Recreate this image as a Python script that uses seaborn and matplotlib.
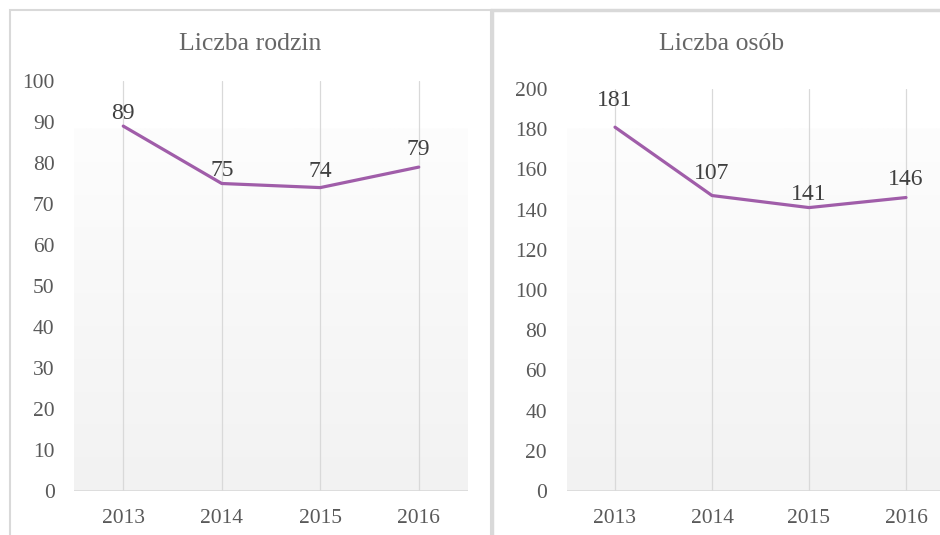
import numpy as np
import pandas as pd
import matplotlib
matplotlib.use("Agg")
import matplotlib.pyplot as plt
from matplotlib.patches import Rectangle
from matplotlib.colors import LinearSegmentedColormap
import seaborn as sns

# ---- data ----
years = ["2013", "2014", "2015", "2016"]
rodziny = [89, 75, 74, 79]
rodziny_labels = ["89", "75", "74", "79"]
osoby = [181, 147, 141, 146]
osoby_labels = ["181", "107", "141", "146"]
title_left = "Liczba rodzin"
title_right = "Liczba osób"

sns.set_theme(style="white")
plt.rcParams["font.family"] = ["Liberation Serif", "DejaVu Serif"]

LINE = "#A05DA9"
TICK = "#595959"
TITLE = "#666666"
LABEL = "#404040"
GRID = "#D9D9D9"

fig = plt.figure(figsize=(9.4, 5.35), dpi=100)
W, H = 940, 535

def px_axes(x0, x1, ytop, ybot):
    return fig.add_axes([x0 / W, (H - ybot) / H, (x1 - x0) / W, (ybot - ytop) / H])

# panel frames
fig.patches.append(Rectangle((10 / W, -0.05), (491 - 10) / W, (H - 10) / H + 0.05,
                             transform=fig.transFigure, fill=False, edgecolor=GRID, lw=1.5))
fig.patches.append(Rectangle((492 / W, -0.05), 0.6, (H - 10) / H + 0.05,
                             transform=fig.transFigure, fill=False, edgecolor=GRID, lw=2.5))

grad = np.linspace(0, 1, 256).reshape(-1, 1)
cmap = LinearSegmentedColormap.from_list("g", ["#F2F2F2", "#FDFDFD"])

def panel(ax, values, labels, ymax, step, title, tx, offsets, grad_top):
    df = pd.DataFrame({"x": np.arange(len(years)), "y": values})
    ax.imshow(grad, cmap=cmap, origin="lower", aspect="auto",
              extent=(0, 1, 0, grad_top), transform=ax.transAxes, zorder=0)
    for xi in df["x"]:
        ax.axvline(xi, color=GRID, lw=0.9, zorder=1)
    ax.axhline(0, color=GRID, lw=1.2, zorder=1)
    sns.lineplot(data=df, x="x", y="y", ax=ax, color=LINE, lw=2.3, zorder=3)
    ax.set_xlim(-0.5, len(years) - 0.5)
    ax.set_ylim(0, ymax)
    for xi, yi, lab, off in zip(df["x"], df["y"], labels, offsets):
        ax.annotate(lab, (xi, yi), xytext=(0, off), textcoords="offset pixels",
                    ha="center", va="center", fontsize=17, color=LABEL)
    ax.set_xticks(df["x"])
    ax.set_xticklabels(years)
    ax.set_yticks(np.arange(0, ymax + 1, step))
    ax.tick_params(axis="x", length=0, pad=13, labelsize=15.5, labelcolor=TICK)
    ax.tick_params(axis="y", length=0, pad=14, labelsize=15.5, labelcolor=TICK)
    ax.set_xlabel("")
    ax.set_ylabel("")
    for s in ax.spines.values():
        s.set_visible(False)
    ax.patch.set_alpha(0)
    fig.text(tx / W, (H - 44) / H, title, ha="center", va="center",
             fontsize=18.5, color=TITLE)

ax1 = px_axes(74, 468, 81, 491)
panel(ax1, rodziny, rodziny_labels, 100, 10, title_left, 250, [13, 13, 16, 18],
      363 / 410)
ax2 = px_axes(566.5, 954.5, 89, 491)
panel(ax2, osoby, osoby_labels, 200, 20, title_right, 722, [27, 22, 13, 18],
      363 / 402)

fig.savefig("out.png", dpi=100)
